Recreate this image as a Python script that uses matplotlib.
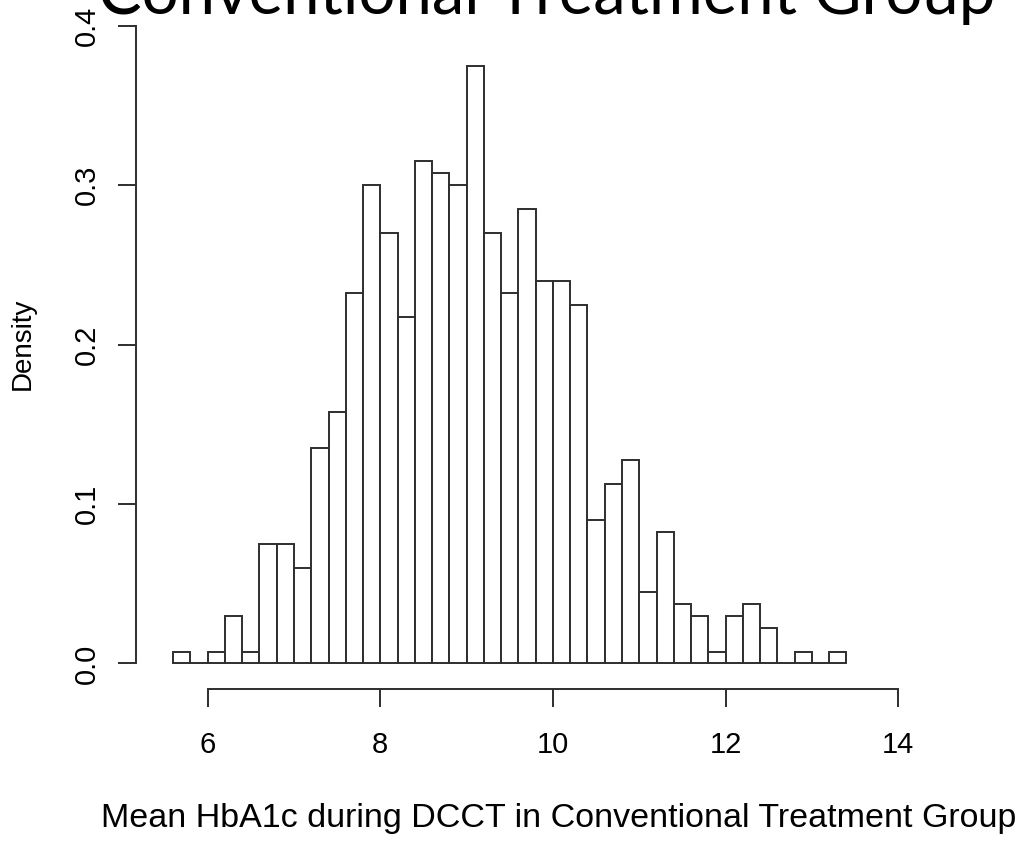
import numpy as np
import matplotlib.pyplot as plt

# HbA1c histogram, conventional treatment group (bins of 0.2 from 5.6 to 13.4)
bin_edges = np.round(np.arange(5.6, 13.4001, 0.2), 1)
counts = [1, 0, 1, 4, 1, 10, 10, 8, 18, 21, 31, 40, 36, 29, 42, 41, 40, 50, 36,
          31, 38, 32, 32, 30, 12, 15, 17, 6, 11, 5, 4, 1, 4, 5, 3, 0, 1, 0, 1]
x_ticks = [6, 8, 10, 12, 14]
y_ticks = [0.0, 0.1, 0.2, 0.3, 0.4]

plt.rcParams['font.family'] = ['Liberation Sans', 'DejaVu Sans']

fig = plt.figure(figsize=(10.25, 8.42), dpi=100)
ax = fig.add_axes([136 / 1025, 153 / 842, (982 - 136) / 1025, 689 / 842])

ax.hist(bin_edges[:-1], bins=bin_edges, weights=counts, density=True,
        facecolor='white', edgecolor='#2e2e2e', linewidth=1.4)

ax.set_xlim(5.17, 14.97)
ax.set_ylim(-0.016, 0.416)

# R-style detached axes
for side in ['top', 'right']:
    ax.spines[side].set_visible(False)
ax.spines['left'].set_bounds(0, 0.4)
ax.spines['bottom'].set_bounds(6, 14)
for side in ['left', 'bottom']:
    ax.spines[side].set_linewidth(1.4)
    ax.spines[side].set_color('#2e2e2e')

ax.set_xticks(x_ticks)
ax.set_xticklabels([str(t) for t in x_ticks])
ax.set_yticks(y_ticks)
ax.set_yticklabels([f'{t:.1f}' for t in y_ticks])
ax.tick_params(axis='both', direction='out', length=13, width=1.4,
               color='#2e2e2e', labelsize=21)
ax.tick_params(axis='x', pad=17)
ax.tick_params(axis='y', pad=12, labelrotation=90)
for lab in ax.get_yticklabels():
    lab.set_verticalalignment('center')

fig.text(23 / 1025, 1 - 344 / 842, 'Density', rotation=90,
         ha='center', va='center', fontsize=20)
fig.text(559 / 1025, 15 / 842,
         'Mean HbA1c during DCCT in Conventional Treatment Group',
         ha='center', va='baseline', fontsize=24.5)
fig.text(547 / 1025, 1 - 14 / 842, 'Conventional Treatment Group',
         ha='center', va='baseline', fontsize=47, family=['Lato', 'DejaVu Sans'])

fig.savefig('out.png', dpi=100, facecolor='white')
